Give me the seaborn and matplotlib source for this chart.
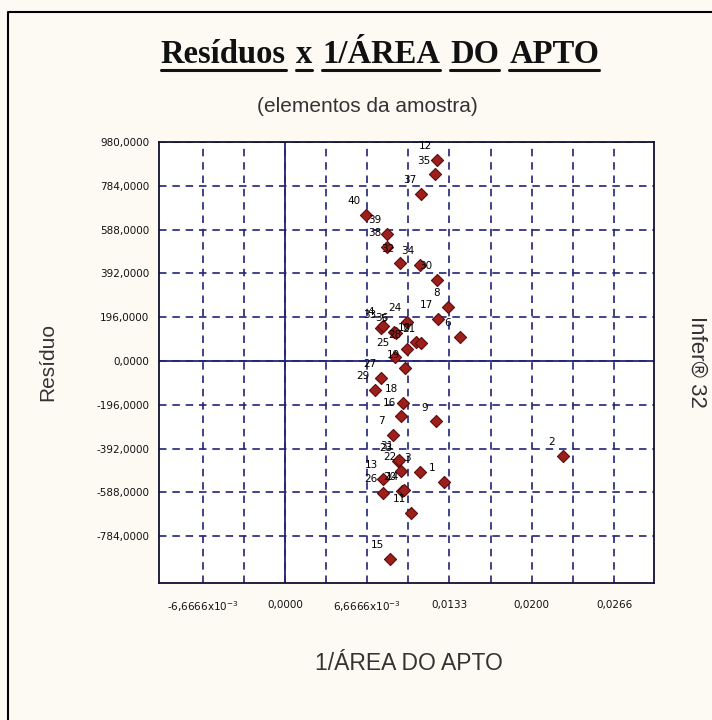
import numpy as np
import pandas as pd
import matplotlib
matplotlib.use('Agg')
import matplotlib.pyplot as plt
import seaborn as sns
from matplotlib.lines import Line2D

sns.set_theme(style='white')
plt.rcParams['font.family'] = ['Liberation Sans', 'DejaVu Sans']

# sample elements (residual vs 1/area)
point_labels = ['12', '35', '37', '40', '39', '38', '32', '34', '30', '8',
                '17', '6', '24', '10', '21', '33', '36', '4', '5', '25',
                '19', '28', '27', '29', '18', '16', '9', '7', '23', '31',
                '22', '3', '1', '13', '26', '20', '14', '11', '15', '2']
inv_area = [0.01230, 0.01218, 0.01106, 0.00659, 0.00823, 0.00823, 0.00930, 0.01092, 0.01235, 0.01321,
            0.01240, 0.01416, 0.00985, 0.01066, 0.01100, 0.00782, 0.00884, 0.00793, 0.00898, 0.00890,
            0.00971, 0.00985, 0.00782, 0.00728, 0.00957, 0.00944, 0.01227, 0.00876, 0.00917, 0.00922,
            0.00944, 0.01092, 0.01286, 0.00793, 0.00795, 0.00949, 0.00963, 0.01025, 0.00849, 0.02252]
residuo = [900, 835, 747, 655, 570, 509, 437, 428, 364, 242,
           190, 108, 175, 86, 82, 146, 131, 156, 125, 19,
           -33, 56, -77, -129, -188, -248, -270, -330, -449, -441,
           -493, -498, -540, -526, -589, -582, -579, -678, -886, -426]

x_ticks = [-0.0066666, 0.0, 0.0066666, 0.0133332, 0.0199998, 0.0266664]
x_tick_labels = ['-6,6666x10$^{-3}$', '0,0000', '6,6666x10$^{-3}$', '0,0133', '0,0200', '0,0266']
x_minor = [-0.0033333, 0.0033333, 0.0099999, 0.0166665, 0.0233331]
y_ticks = [980, 784, 588, 392, 196, 0, -196, -392, -588, -784]
y_tick_labels = ['980,0000', '784,0000', '588,0000', '392,0000', '196,0000', '0,0000',
                 '-196,0000', '-392,0000', '-588,0000', '-784,0000']

BG = '#fcfaf3'
NAVY = '#23237a'
W, H = 712, 720
NARROW = ['Liberation Sans Narrow', 'DejaVu Sans']

df = pd.DataFrame({'x': inv_area, 'y': residuo, 'label': point_labels})

fig = plt.figure(figsize=(W / 100, H / 100), dpi=100, facecolor=BG)
ax = fig.add_axes([159 / W, 1 - 583 / H, (654 - 159) / W, (583 - 142) / H])
ax.set_facecolor('white')

sns.scatterplot(data=df, x='x', y='y', ax=ax, marker='D', s=38,
                color='#9c1f1c', edgecolor='#5c0c0c', linewidth=0.8, zorder=5)
for _, r in df.iterrows():
    ax.annotate(r['label'], (r['x'], r['y']), xytext=(-8.5, 10), textcoords='offset points',
                ha='center', va='center', fontsize=7.5, color='black', zorder=6,
                family=NARROW)

ax.set_xlim(-0.0102, 0.0299)
ax.set_ylim(-993, 980)
ax.set_xticks(x_ticks)
ax.set_xticklabels(x_tick_labels, fontsize=7.5, family=NARROW, color='#111111')
ax.set_xticks(x_minor, minor=True)
ax.set_yticks(y_ticks)
ax.set_yticklabels(y_tick_labels, fontsize=7.5, family=NARROW, color='#111111')
ax.tick_params(axis='both', which='both', length=4, width=1, color=NAVY, direction='out')
ax.tick_params(axis='y', pad=3)
ax.tick_params(axis='x', pad=8)
ax.tick_params(axis='x', which='minor', length=0)

ax.grid(True, axis='y', which='major', color=NAVY, linestyle=(0, (4.5, 3.5)), linewidth=1.2)
ax.grid(True, axis='x', which='both', color=NAVY, linestyle=(0, (4.5, 3.5)), linewidth=1.2)
ax.axhline(0, color=NAVY, linewidth=1.3, zorder=2)
ax.axvline(0, color=NAVY, linewidth=1.3, zorder=2)
for side, sp in ax.spines.items():
    sp.set_color('#111133')
    sp.set_linewidth(1.3)
ax.set_xlabel('')
ax.set_ylabel('')

# text around the chart
fig.text(409 / W, 1 - 663 / H, '1/ÁREA DO APTO', fontsize=16.5, color='#333333',
         ha='center', va='center')
fig.text(48 / W, 1 - 362 / H, 'Resíduo', fontsize=15, color='#333333',
         ha='center', va='center', rotation=90)
fig.text(697 / W, 1 - 362 / H, 'Infer® 32', fontsize=16, color='#333333',
         ha='center', va='center', rotation=-90)
fig.text(367 / W, 1 - 107 / H, '(elementos da amostra)', fontsize=15, color='#333333',
         ha='center', va='center')

# underlined bold title, word by word
renderer = fig.canvas.get_renderer()
words = ['Resíduos', 'x', '1/ÁREA', 'DO', 'APTO']
gap = 10
objs = [fig.text(0, 0, w, fontsize=23.5, weight='bold', color='#111111',
                 family=['Liberation Serif', 'DejaVu Serif'], ha='left', va='baseline')
        for w in words]
widths = [t.get_window_extent(renderer).width for t in objs]
total = sum(widths) + gap * (len(words) - 1)
x0 = 380 - total / 2
base = 63
for t, w in zip(objs, widths):
    t.set_position((x0 / W, 1 - base / H))
    fig.add_artist(Line2D([x0 / W, (x0 + w) / W], [1 - 70 / H, 1 - 70 / H],
                          color='#111111', linewidth=2.2, transform=fig.transFigure))
    x0 += w + gap

# frame of the window
fig.add_artist(Line2D([8 / W, 8 / W, 1], [0, 1 - 12 / H, 1 - 12 / H],
                      color='black', linewidth=1.5, transform=fig.transFigure))

plt.savefig('out.png', dpi=100, facecolor=BG)
plt.close()
